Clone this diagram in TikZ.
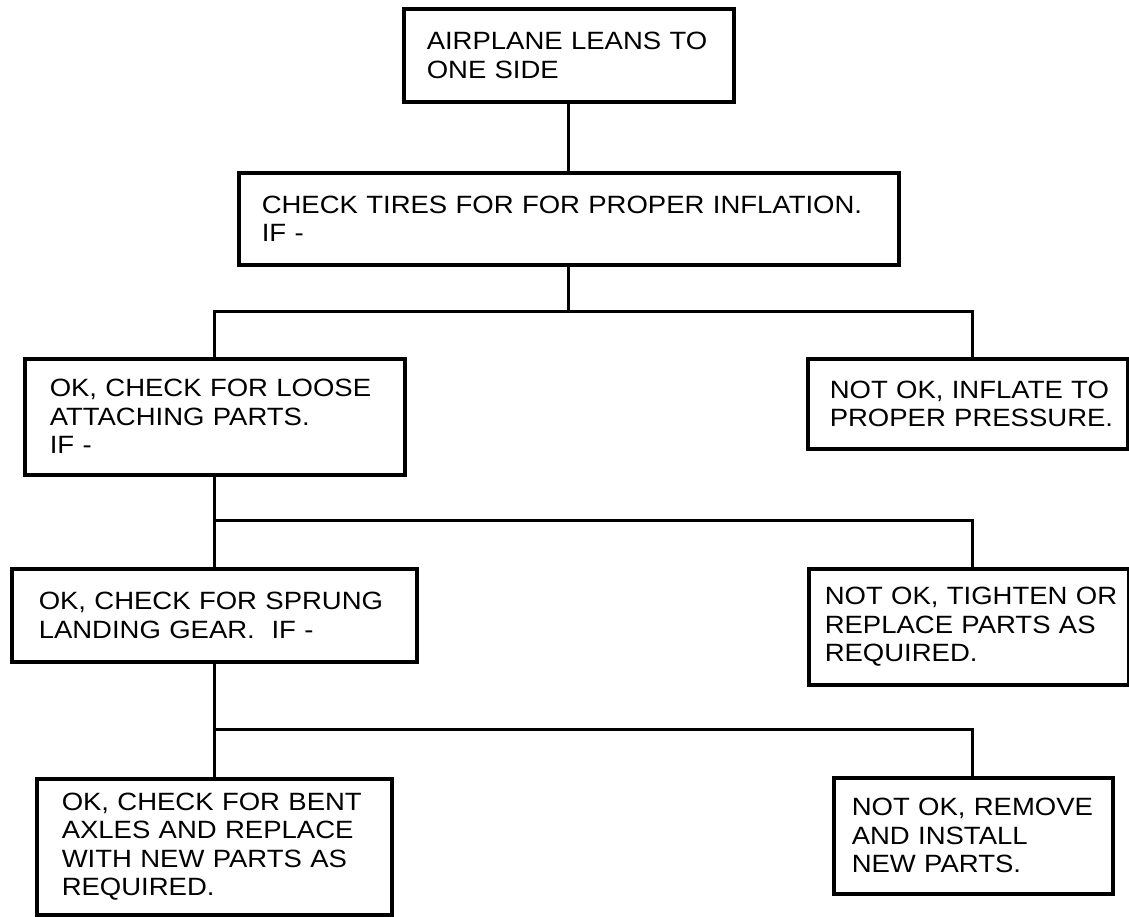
\documentclass[tikz,border=0pt]{standalone}
\usepackage{fontspec}
\newfontfamily\boxfont[FakeStretch=1.1]{Liberation Sans}
\begin{document}
\begin{tikzpicture}[x=1pt,y=-1pt,
  box/.style={draw, line width=3.5pt, anchor=north west, align=left,
    inner ysep=0pt,
    font={\boxfont\fontsize{25}{28.5}\selectfont\hyphenpenalty=10000\exhyphenpenalty=10000}},
  conn/.style={line width=3pt}]
\useasboundingbox (0,0) rectangle (1129,916);
% boxes
\node[box, inner xsep=23pt, text width=284pt, minimum height=93pt] (b1) at (402,7)
  {AIRPLANE~LEANS~TO\\ONE~SIDE};
\node[box, inner xsep=23pt, text width=614pt, minimum height=92pt] (b2) at (237,171)
  {CHECK~TIRES~FOR~FOR~PROPER~INFLATION.\\IF~-};
\node[box, inner xsep=25pt, text width=330pt, minimum height=116pt] (b3) at (23,357)
  {OK,~CHECK~FOR~LOOSE\\ATTACHING~PARTS.\\IF~-};
\node[box, inner xsep=22pt, text width=276pt, minimum height=90pt] (b4) at (806,357)
  {NOT~OK,~INFLATE~TO\\PROPER~PRESSURE.};
\node[box, inner xsep=27pt, text width=351pt, minimum height=93pt] (b5) at (10,567)
  {OK,~CHECK~FOR~SPRUNG\\LANDING~GEAR.~~IF~-};
\node[box, inner xsep=16pt, text width=288pt, minimum height=116pt] (b6) at (807,567)
  {NOT~OK,~TIGHTEN~OR\\REPLACE~PARTS~AS\\REQUIRED.};
\node[box, inner xsep=25pt, text width=305pt, minimum height=136pt] (b7) at (35,777)
  {OK,~CHECK~FOR~BENT\\AXLES~AND~REPLACE\\WITH~NEW~PARTS~AS\\REQUIRED.};
\node[box, inner xsep=18pt, text width=243pt, minimum height=116pt] (b8) at (832,776)
  {NOT~OK,~REMOVE\\AND~INSTALL\\NEW~PARTS.};
% junctions
\coordinate (r1) at (972,311);
\coordinate (j2) at (213,520);
\coordinate (r2) at (972,520);
\coordinate (j3) at (213,729);
\coordinate (r3) at (972,729);
% connectors
\draw[conn] (b1.south) -- (b1.south |- b2.north);
\draw[conn] (b2.south) -- (b2.south |- r1);
\draw[conn] (b3.north) |- (r1) -- (r1 |- b4.north);
\draw[conn] (b3.south) -- (b3.south |- b5.north);
\draw[conn] (j2) -- (r2) -- (r2 |- b6.north);
\draw[conn] (b5.south) -- (b5.south |- b7.north);
\draw[conn] (j3) -- (r3) -- (r3 |- b8.north);
\end{tikzpicture}
\end{document}
